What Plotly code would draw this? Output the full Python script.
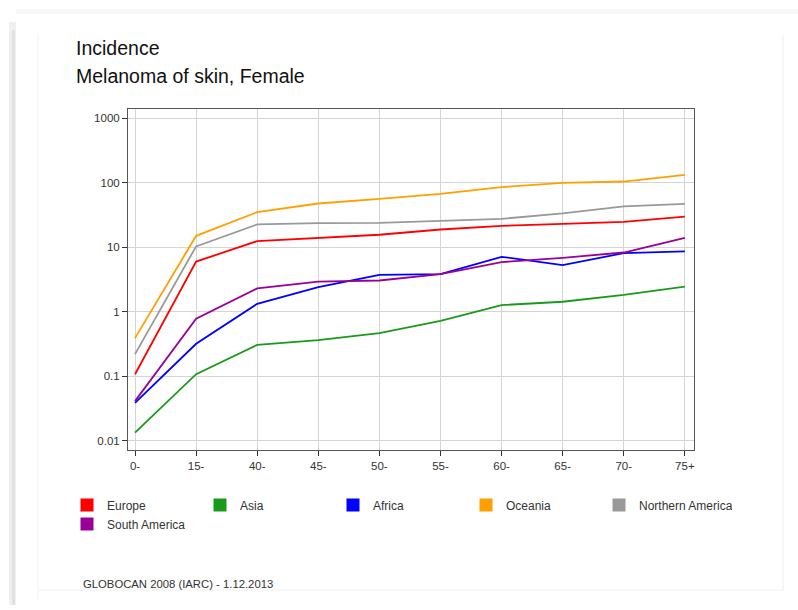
import plotly.graph_objects as go

# Age groups on the x axis
age_groups = ["0-", "15-", "40-", "45-", "50-", "55-", "60-", "65-", "70-", "75+"]

# Incidence rates per 100,000 by region
europe = [0.108, 6.0, 12.4, 14.0, 15.6, 18.8, 21.4, 23.0, 24.7, 29.8]
asia = [0.0135, 0.108, 0.308, 0.364, 0.468, 0.726, 1.27, 1.43, 1.83, 2.46]
africa = [0.039, 0.320, 1.33, 2.41, 3.74, 3.83, 7.1, 5.28, 8.09, 8.59]
oceania = [0.391, 15.0, 34.9, 47.5, 56.1, 67.1, 85.2, 99.3, 104.0, 132.0]
northern_america = [0.221, 10.3, 22.5, 23.6, 23.8, 25.8, 27.5, 33.5, 43.0, 46.8]
south_america = [0.0414, 0.779, 2.30, 2.94, 3.05, 3.83, 5.88, 6.85, 8.28, 14.0]

y_tick_values = [0.01, 0.1, 1, 10, 100, 1000]
y_tick_labels = ["0.01", "0.1", "1", "10", "100", "1000"]

series = [
    ("Europe", europe, "#ff0000", "legend"),
    ("Asia", asia, "#1a9a1a", "legend"),
    ("Africa", africa, "#0000ff", "legend"),
    ("Oceania", oceania, "#ffa000", "legend"),
    ("Northern America", northern_america, "#999999", "legend"),
    ("South America", south_america, "#990099", "legend2"),
]

FONT = "Liberation Sans"

fig = go.Figure()
for name, values, color, leg in series:
    fig.add_trace(go.Scatter(
        x=age_groups, y=values, mode="lines", name=name,
        line=dict(color=color, width=1.8),
        showlegend=False,
    ))
# Square swatches for the legend
for name, values, color, leg in series:
    fig.add_trace(go.Scatter(
        x=[None], y=[None], mode="markers", name=name,
        marker=dict(symbol="square", size=13, color=color),
        legend=leg, showlegend=True,
    ))

W, H = 798, 610
L, R, T, B = 128, 104, 109, 160
pw, ph = W - L - R, H - T - B


def px(x):
    return (x - L) / pw


def py(y):
    return (H - B - y) / ph


legend_common = dict(
    orientation="h", xanchor="left", yanchor="middle",
    font=dict(family=FONT, size=12, color="#333333"),
    entrywidth=88, entrywidthmode="pixels",
    bgcolor="rgba(0,0,0,0)", itemwidth=30, tracegroupgap=0,
)

fig.update_layout(
    width=W, height=H,
    margin=dict(l=L, r=R, t=T, b=B, pad=0),
    paper_bgcolor="white", plot_bgcolor="white",
    font=dict(family=FONT, size=11, color="#333333"),
    legend=dict(x=px(67), y=py(505), **legend_common),
    legend2=dict(x=px(67), y=py(524), **legend_common),
    xaxis=dict(
        type="category", categoryorder="array", categoryarray=age_groups,
        range=[-0.115, 9.15],
        showgrid=True, gridcolor="#d4d4d4", gridwidth=1,
        showline=True, linecolor="#555555", linewidth=1, mirror=True,
        ticks="outside", ticklen=5, tickcolor="#333333",
        tickfont=dict(family=FONT, size=11.5, color="#333333"),
        zeroline=False, fixedrange=True,
    ),
    yaxis=dict(
        type="log", range=[-2.14, 3.14],
        tickvals=y_tick_values, ticktext=y_tick_labels,
        showgrid=True, gridcolor="#d4d4d4", gridwidth=1,
        showline=True, linecolor="#555555", linewidth=1, mirror=True,
        ticks="outside", ticklen=5, tickcolor="#333333",
        tickfont=dict(family=FONT, size=11.5, color="#333333"),
        zeroline=False, fixedrange=True,
    ),
    annotations=[
        dict(text="Incidence", xref="paper", yref="paper", x=px(74), y=py(48),
             xanchor="left", yanchor="middle", showarrow=False,
             font=dict(family=FONT, size=19.5, color="#111111")),
        dict(text="Melanoma of skin, Female", xref="paper", yref="paper",
             x=px(74), y=py(76), xanchor="left", yanchor="middle", showarrow=False,
             font=dict(family=FONT, size=19.5, color="#111111")),
        dict(text="GLOBOCAN 2008 (IARC) - 1.12.2013", xref="paper", yref="paper",
             x=px(81), y=py(584), xanchor="left", yanchor="middle", showarrow=False,
             font=dict(family=FONT, size=11.3, color="#333333")),
    ],
    shapes=[
        # soft shadow of the page card on the left
        dict(type="rect", xref="paper", yref="paper", x0=px(9), x1=px(16),
             y0=py(605), y1=py(22), line=dict(width=0), fillcolor="#f0f0f0", layer="below"),
        dict(type="rect", xref="paper", yref="paper", x0=px(12), x1=px(15),
             y0=py(605), y1=py(30), line=dict(width=0), fillcolor="#e2e2e2", layer="below"),
        # faint top band
        dict(type="rect", xref="paper", yref="paper", x0=px(16), x1=px(798),
             y0=py(14), y1=py(9), line=dict(width=0), fillcolor="#f8f8f8", layer="below"),
        # inner panel edges
        dict(type="line", xref="paper", yref="paper", x0=px(38), x1=px(38),
             y0=py(600), y1=py(35), line=dict(color="#f2f2f2", width=1), layer="below"),
        dict(type="line", xref="paper", yref="paper", x0=px(783), x1=px(783),
             y0=py(590), y1=py(35), line=dict(color="#eeeeee", width=1), layer="below"),
        dict(type="line", xref="paper", yref="paper", x0=px(38), x1=px(783),
             y0=py(590), y1=py(590), line=dict(color="#f0f0f0", width=1), layer="below"),
    ],
)

fig.write_html("out.html")
